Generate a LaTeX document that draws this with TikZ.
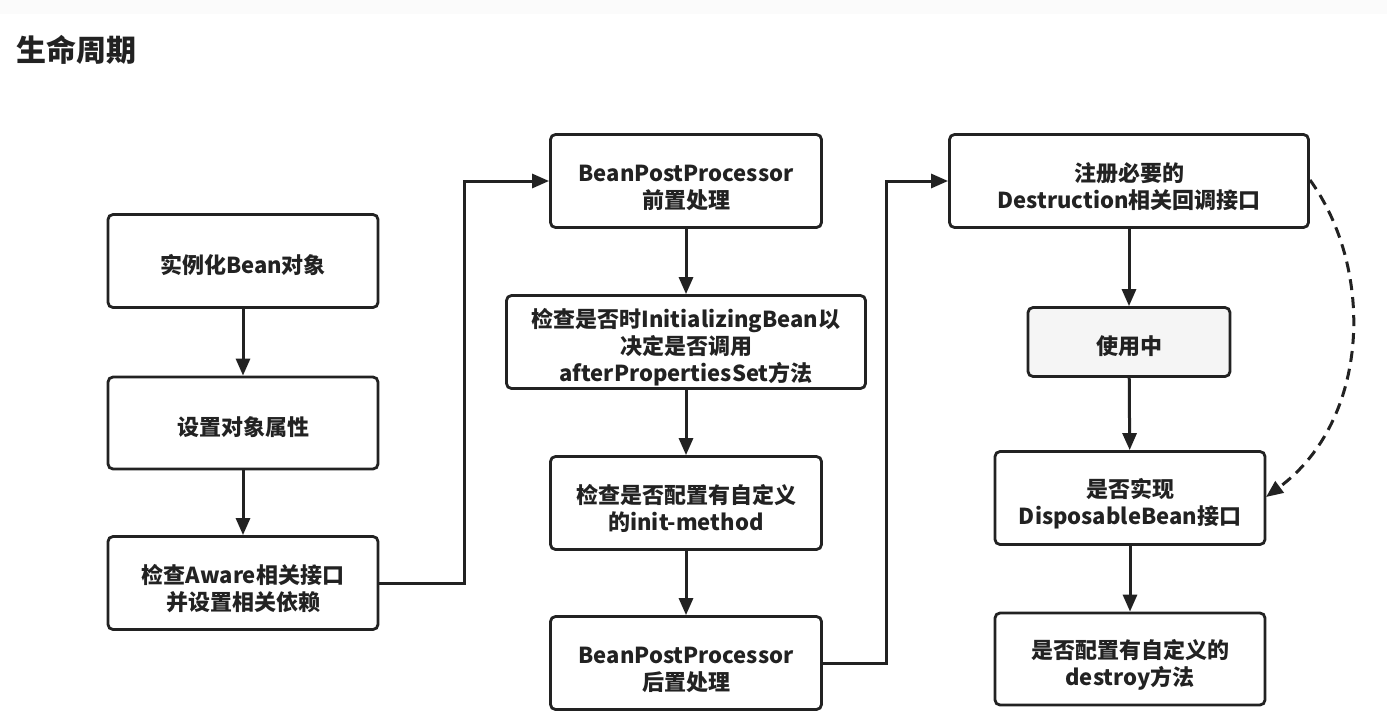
\documentclass[tikz,border=0pt]{standalone}
\usepackage{fontspec}
\setmainfont{Noto Sans CJK SC}
\usetikzlibrary{arrows.meta}
\definecolor{ink}{HTML}{222222}
\newcommand\fs[1][30pt]{\rule{0pt}{#1}}
\tikzset{
  box/.style={draw=ink, line width=2.8pt, rounded corners=5pt, fill=white,
    align=center, inner sep=0pt,
    font=\fontsize{22}{27}\selectfont\bfseries, text=ink},
  conn/.style={draw=ink, line width=3pt, -{Triangle[length=17pt,width=14pt]}},
}
\begin{document}
\begin{tikzpicture}[x=1pt,y=-1pt]
\useasboundingbox (0,0) rectangle (1387,715);
\fill[gray!3] (0,0) rectangle (1387,14);
\node[font=\fontsize{30}{34}\selectfont\bfseries, text=ink, anchor=west] (title) at (13,50) {生命周期};

\node[box, minimum width=270pt, minimum height=93pt] (a) at (243,261) {\fs[27pt]实例化Bean对象};
\node[box, minimum width=270pt, minimum height=92pt] (b) at (243,423) {\fs[27pt]设置对象属性};
\node[box, minimum width=270pt, minimum height=93pt] (c) at (243,583) {\fs 检查Aware相关接口\\并设置相关依赖};

\node[box, minimum width=271pt, minimum height=93pt] (d) at (686,181) {\fs BeanPostProcessor\\前置处理};
\node[box, minimum width=359pt, minimum height=93pt] (e) at (686,342) {\fs 检查是否时InitializingBean以\\决定是否调用\\afterPropertiesSet方法};
\node[box, minimum width=271pt, minimum height=93pt] (f) at (686,503) {\fs 检查是否配置有自定义\\的init-method};
\node[box, minimum width=271pt, minimum height=93pt] (g) at (686,663) {\fs BeanPostProcessor\\后置处理};

\node[box, minimum width=359pt, minimum height=93pt] (h) at (1129,181) {\fs 注册必要的\\Destruction相关回调接口};
\node[box, fill=gray!8, minimum width=202pt, minimum height=69pt] (i) at (1129,342) {\fs[27pt]使用中};
\node[box, minimum width=270pt, minimum height=93pt] (j) at (1130,498) {\fs 是否实现\\DisposableBean接口};
\node[box, minimum width=270pt, minimum height=92pt] (k) at (1130,659) {\fs 是否配置有自定义的\\destroy方法};

\draw[conn] (a) -- (b);
\draw[conn] (b) -- (c);
\draw[conn] (d) -- (e);
\draw[conn] (e) -- (f);
\draw[conn] (f) -- (g);
\draw[conn] (h) -- (i);
\draw[conn] (i) -- (j);
\draw[conn] (j) -- (k);

\draw[conn] (c.east) -- (464,583) |- (d.west);
\draw[conn] (g.east) -- (886,663) |- (h.west);

\coordinate (hs) at (1310,180);
\coordinate (je) at (1266,497);
\draw[conn, dashed, dash pattern=on 11pt off 7pt] (hs) .. controls (1375,270) and (1370,420) .. (je);
\end{tikzpicture}
\end{document}
